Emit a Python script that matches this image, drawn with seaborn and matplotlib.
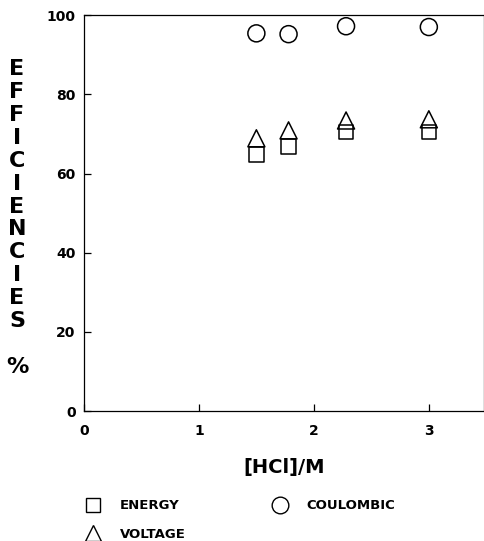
import matplotlib
matplotlib.use("Agg")
import matplotlib.pyplot as plt
import seaborn as sns
import pandas as pd
from matplotlib.lines import Line2D

# Data
hcl = [1.5, 1.78, 2.28, 3.0]
energy = [64.8, 66.8, 70.5, 70.5]
voltage = [68.9, 70.9, 73.4, 73.7]
coulombic = [95.4, 95.2, 97.2, 97.0]

series_names = ["ENERGY", "VOLTAGE", "COULOMBIC"]
xticks = [0, 1, 2, 3]
yticks = [0, 20, 40, 60, 80, 100]

df = pd.DataFrame({
    "HCl": hcl * 3,
    "eff": energy + voltage + coulombic,
    "series": [series_names[0]] * 4 + [series_names[1]] * 4 + [series_names[2]] * 4,
})

sns.set_style("ticks")
plt.rcParams["font.family"] = ["DejaVu Sans"]
plt.rcParams["text.color"] = "black"
plt.rcParams["axes.labelcolor"] = "black"

fig = plt.figure(figsize=(4.85, 5.41), dpi=100)
ax = fig.add_axes([0.173, 0.240, 0.825, 0.732])

markers = {"ENERGY": "s", "VOLTAGE": "^", "COULOMBIC": "o"}
sizes = {"ENERGY": 110, "VOLTAGE": 150, "COULOMBIC": 150}
for name in series_names:
    sub = df[df["series"] == name]
    sns.scatterplot(data=sub, x="HCl", y="eff", marker=markers[name], s=sizes[name],
                    facecolor="none", edgecolor="black", linewidth=1.1, ax=ax,
                    legend=False, zorder=3)

ax.set_xlim(0, 3.48)
ax.set_ylim(0, 100)
ax.set_xticks(xticks)
ax.set_yticks(yticks)
ax.set_xticklabels([str(t) for t in xticks], fontweight="bold", fontsize=10)
ax.set_yticklabels([str(t) for t in yticks], fontweight="bold", fontsize=10)
ax.tick_params(direction="in", length=5, width=0.9, colors="black", pad=6)
ax.tick_params(axis="x", pad=9)
for sp in ax.spines.values():
    sp.set_visible(True)
    sp.set_linewidth(0.9)
    sp.set_color("black")

ax.set_xlabel("[HCl]/M", fontsize=14, fontweight="bold", labelpad=15, color="black")
ax.set_ylabel("")

# stacked vertical y label
fig.text(0.035, 0.597, "\n".join(list("EFFICIENCIES") + ["", "%"]),
         ha="center", va="center", multialignment="center",
         fontsize=16, fontweight="bold", linespacing=1.18, color="black")

handles = [
    Line2D([], [], ls="none", marker="s", ms=10, mfc="none", mec="black", mew=1.0),
    Line2D([], [], ls="none", marker="^", ms=12, mfc="none", mec="black", mew=1.0),
    Line2D([], [], ls="none", marker="o", ms=12, mfc="none", mec="black", mew=1.0),
]
leg = fig.legend(handles, series_names, ncol=2, frameon=False,
                 loc="upper left", bbox_to_anchor=(0.165, 0.077),
                 prop={"weight": "bold", "size": 9.5},
                 handletextpad=1.0, columnspacing=6.2, labelspacing=1.15,
                 borderpad=0, borderaxespad=0, labelcolor="black")

fig.savefig("out.png", dpi=100)
